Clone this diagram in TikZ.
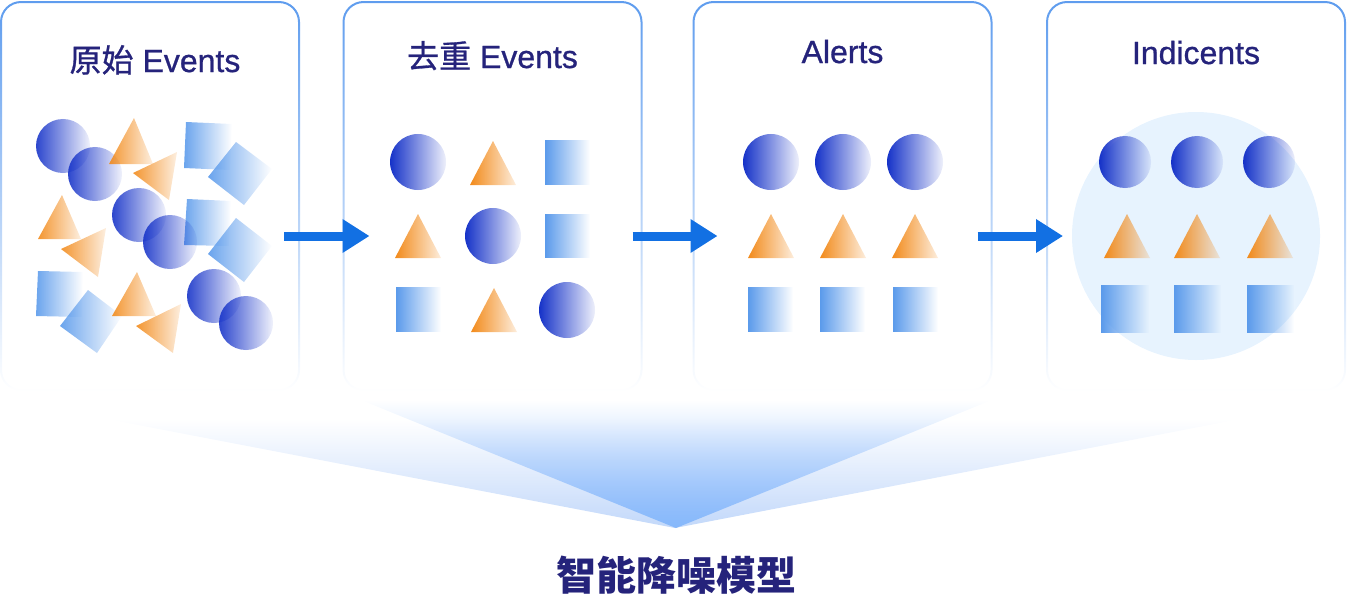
\documentclass[tikz,border=0pt]{standalone}
\usepackage{fontspec}
\setmainfont{Liberation Sans}[FakeBold=0.8]
\newfontfamily\titlef{Liberation Sans}[FakeBold=0.8]
\newfontfamily\cjk{Noto Sans CJK SC}
\newfontfamily\cjkt{Noto Sans CJK SC}[FakeBold=0.9]
\usetikzlibrary{arrows.meta,fadings}

\definecolor{titlecol}{HTML}{25237B}
\definecolor{bordercol}{HTML}{5E9CEE}
\definecolor{arrowcol}{HTML}{1270E3}
\definecolor{circcol}{HTML}{1532C8}
\definecolor{tricol}{HTML}{F28A1A}
\definecolor{sqcol}{HTML}{5A9AEB}
\definecolor{bgcirc}{HTML}{E7F3FE}
\definecolor{fanwide}{HTML}{C2D8FA}
\definecolor{fanin}{HTML}{86B8FC}

\tikzfading[name=borderfade, top color=transparent!0, middle color=transparent!0, bottom color=transparent!100]
\tikzfading[name=fadecirc, left color=transparent!0, right color=transparent!93]
\tikzfading[name=fadetri, left color=transparent!0, right color=transparent!85]
\tikzfading[name=fadesq, left color=transparent!0, right color=transparent!100]
\tikzfading[name=fadeup, top color=transparent!100, bottom color=transparent!0]

\newcommand\mycirc[3]{\fill[circ] (#1,#2) circle[radius=#3];}
\newcommand\mytri[2]{\fill[tri] (#1-23,#2) -- (#1+23,#2) -- (#1,#2-44) -- cycle;}
\newcommand\mysq[4]{\fill[sq] (#1,#2) rectangle (#3,#4);}

\begin{document}
\begin{tikzpicture}[x=0.5pt,y=-0.5pt,
  panel/.style={draw=bordercol, line width=1pt, rounded corners=10pt,
    minimum width=149pt, minimum height=194pt, inner sep=0pt, path fading=borderfade},
  title/.style={text=titlecol, font=\titlef\fontsize{16pt}{19pt}\selectfont, anchor=base, inner sep=0pt},
  conn/.style={draw=arrowcol, line width=4.5pt, -{Triangle[length=13.5pt,width=16pt]}},
  circ/.style={fill=circcol, path fading=fadecirc},
  tri/.style={fill=tricol, path fading=fadetri},
  sq/.style={fill=sqcol, path fading=fadesq}]
\useasboundingbox (0,0) rectangle (1347,600);

% fans
\fill[fanwide, path fading=fadeup] (107,419) -- (1242,419) -- (676,528) -- cycle;
\fill[fanin, path fading=fadeup] (361,400) -- (992,400) -- (676,528) -- cycle;

% panels
\node[panel] (p1) at (150,196) {};
\node[panel] (p2) at (492.5,196) {};
\node[panel] (p3) at (842.5,196) {};
\node[panel] (p4) at (1196,196) {};

% titles
\node[title] (t1) at (155,72) {{\cjkt 原始} Events};
\node[title] (t2) at (492.5,68) {{\cjkt 去重} Events};
\node[title] (t3) at (842.5,63) {Alerts};
\node[title] (t4) at (1196,64) {Indicents};

% panel 1 scattered shapes
\begin{scope}[fill opacity=0.9]
\fill[sq] (186,122) -- (232,124) -- (230,170) -- (184,168) -- cycle;
\fill[sq] (236,142) -- (272,169) -- (244,205) -- (208,177) -- cycle;
\fill[sq] (187,199) -- (231,201) -- (229,246) -- (184,245) -- cycle;
\fill[sq] (236,218) -- (272,246) -- (244,282) -- (208,254) -- cycle;
\fill[sq] (38,271) -- (83,272) -- (82,317) -- (36,316) -- cycle;
\fill[sq] (88,290) -- (122,316) -- (97,353) -- (60,326) -- cycle;
\mycirc{63}{146}{27}
\mycirc{95}{174}{27}
\mycirc{139}{215}{27}
\mycirc{170}{242}{27}
\mycirc{214}{296}{27}
\mycirc{246}{323}{27}
\fill[tri] (109,164) -- (153,164) -- (134,118) -- cycle;
\fill[tri] (133,173) -- (177,152) -- (169,200) -- cycle;
\fill[tri] (38,239) -- (81,239) -- (62,195) -- cycle;
\fill[tri] (61,249) -- (106,228) -- (98,277) -- cycle;
\fill[tri] (112,316) -- (156,316) -- (137,272) -- cycle;
\fill[tri] (136,326) -- (181,304) -- (173,353) -- cycle;
\end{scope}

% panel 2
\mycirc{418}{162}{28}
\mytri{493}{185}
\mysq{545}{140}{590}{185}
\mytri{418}{258}
\mycirc{493}{236}{28}
\mysq{545}{214}{590}{258}
\mysq{396}{287}{441}{332}
\mytri{494}{332}
\mycirc{567}{310}{28}

% panel 3
\mycirc{771}{162}{28}
\mycirc{843}{162}{28}
\mycirc{915}{162}{28}
\mytri{771}{258}
\mytri{843}{258}
\mytri{915}{258}
\mysq{748}{287}{793}{332}
\mysq{820}{287}{865}{332}
\mysq{893}{287}{938}{332}

% panel 4
\node[circle, fill=bgcirc, minimum size=124pt, inner sep=0pt] (cluster) at (1196,236) {};
\mycirc{1125}{162}{26}
\mycirc{1197}{162}{26}
\mycirc{1269}{162}{26}
\mytri{1127}{258}
\mytri{1197}{258}
\mytri{1270}{258}
\mysq{1101}{285}{1149}{333}
\mysq{1174}{285}{1221}{333}
\mysq{1247}{285}{1294}{333}

% arrows
\draw[conn] ([xshift=-8pt,yshift=-20pt]p1.east) -- ([xshift=13.5pt,yshift=-20pt]p2.west);
\draw[conn] ([xshift=-5pt,yshift=-20pt]p2.east) -- ([xshift=12.5pt,yshift=-20pt]p3.west);
\draw[conn] ([xshift=-7.5pt,yshift=-20pt]p3.east) -- ([xshift=8.5pt,yshift=-20pt]p4.west);

% model label
\node[text=titlecol, font={\cjk\bfseries\fontsize{20pt}{24pt}\selectfont}] (model) at (676,575) {智能降噪模型};
\end{tikzpicture}
\end{document}
